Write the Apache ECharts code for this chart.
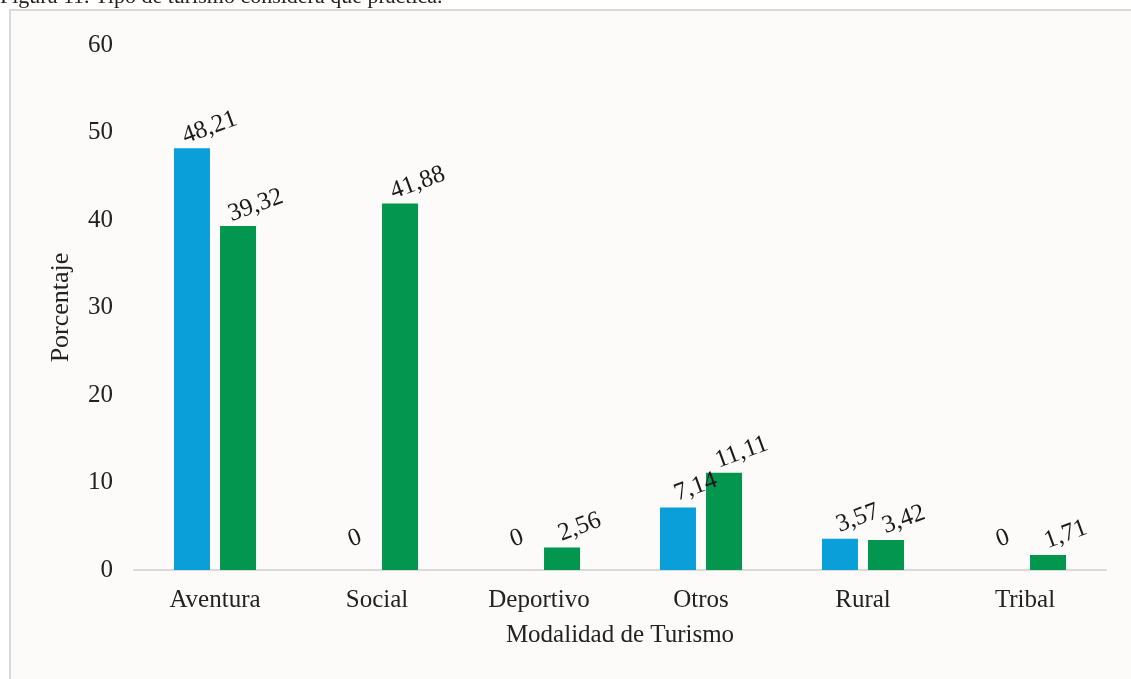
<!DOCTYPE html>
<html>
<head>
<meta charset="utf-8">
<script src="https://cdn.jsdelivr.net/npm/echarts@6/dist/echarts.min.js"></script>
<style>
  html, body { margin: 0; padding: 0; background: #fff; }
  #main { width: 1131px; height: 679px; }
</style>
</head>
<body>
<div id="main"></div>
<script>
// datos
var categorias = ['Aventura', 'Social', 'Deportivo', 'Otros', 'Rural', 'Tribal'];
var serieAzul = [48.21, 0, 0, 7.14, 3.57, 0];
var serieVerde = [39.32, 41.88, 2.56, 11.11, 3.42, 1.71];
var ejeY = { min: 0, max: 60, interval: 10 };

var fuente = '"Liberation Serif", "Times New Roman", serif';

function fmt(p) {
  return String(p.value).replace('.', ',');
}

// los ceros van centrados sobre la barra vacia
function armar(vals) {
  return vals.map(function (v) {
    if (v === 0) return { value: v, label: { offset: [10, -12] } };
    return v;
  });
}

var etiqueta = {
  show: true,
  position: 'top',
  rotate: 20,
  offset: [22, 4],
  color: '#1a1a1a',
  fontFamily: fuente,
  fontSize: 25,
  formatter: fmt
};

var chart = echarts.init(document.getElementById('main'));
var option = {
  backgroundColor: '#ffffff',
  animation: false,
  title: {
    text: 'Figura 11. Tipo de turismo considera que practica.',
    left: 0,
    top: -14,
    padding: 0,
    textStyle: { fontFamily: fuente, fontSize: 22, fontWeight: 'normal', color: '#222' }
  },
  graphic: [{
    type: 'rect',
    z: -10,
    shape: { x: 10, y: 10, width: 1200, height: 800 },
    style: { fill: '#fcfbfa', stroke: '#d9d9d9', lineWidth: 2 }
  }],
  grid: { left: 134, right: 25, top: 45, bottom: 109 },
  xAxis: {
    type: 'category',
    data: categorias,
    name: 'Modalidad de Turismo',
    nameLocation: 'middle',
    nameGap: 53,
    nameTextStyle: { fontFamily: fuente, fontSize: 25, color: '#222' },
    axisLine: { lineStyle: { color: '#d9d9d9', width: 2 } },
    axisTick: { show: false },
    axisLabel: { margin: 18, fontFamily: fuente, fontSize: 25, color: '#222' }
  },
  yAxis: {
    type: 'value',
    min: ejeY.min,
    max: ejeY.max,
    interval: ejeY.interval,
    name: 'Porcentaje',
    nameLocation: 'middle',
    nameGap: 60,
    nameTextStyle: { fontFamily: fuente, fontSize: 26, color: '#222' },
    axisLine: { show: false },
    axisTick: { show: false },
    splitLine: { show: false },
    axisLabel: { margin: 21, fontFamily: fuente, fontSize: 25, color: '#222' }
  },
  series: [
    {
      type: 'bar',
      data: armar(serieAzul),
      barWidth: 36,
      barGap: '28%',
      itemStyle: { color: '#0a9fd8' },
      label: etiqueta
    },
    {
      type: 'bar',
      data: armar(serieVerde),
      barWidth: 36,
      itemStyle: { color: '#02964f' },
      label: etiqueta
    }
  ]
};
chart.setOption(option);
window.addEventListener('resize', chart.resize);
</script>
</body>
</html>
